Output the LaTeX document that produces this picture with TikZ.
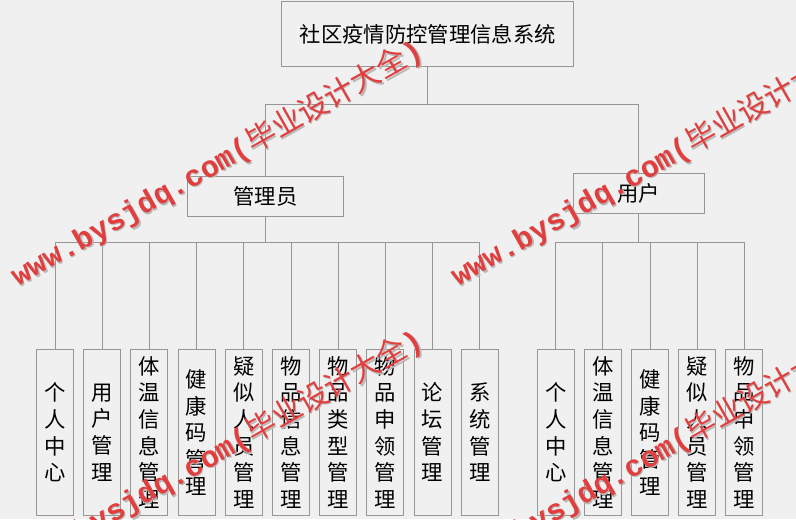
\documentclass[tikz,border=0pt]{standalone}
\usepackage{fontspec}
\usepackage{xcolor}
\usepackage{tikz}
\setmainfont{Liberation Sans}
\newfontfamily\cjkfont{Noto Sans CJK SC}
\newfontfamily\wmlatin{Liberation Mono}

\definecolor{bgcol}{RGB}{240,240,240}
\definecolor{linecol}{RGB}{150,150,150}
\definecolor{wmred}{RGB}{226,62,62}
\definecolor{wmgray}{RGB}{185,185,185}

\tikzset{
  box/.style={draw=linecol, line width=0.75pt, inner sep=0pt, font=\cjkfont\fontsize{16}{20}\selectfont},
  leafbox/.style={box, minimum width=27.75pt, minimum height=124.8pt, align=center},
  link/.style={draw=linecol, line width=0.75pt},
  wmtext/.style={inner sep=0pt, rotate=29.5, text=wmred, font=\wmlatin\bfseries\fontsize{22.5}{26}\selectfont},
  wmshade/.style={wmtext, text=wmgray}
}
\newcommand{\wmstring}{www.bysjdq.com({\cjkfont\mdseries 毕业设计大全})}

\begin{document}
\begin{tikzpicture}[x=0.75pt,y=0.75pt,yscale=-1,xscale=1]
%set diagram to 796 x 519
\useasboundingbox (0,0) rectangle (796,519);
\fill[bgcol] (0,0) rectangle (796,519);
\clip (0,0) rectangle (796,519);

%Shape: Rectangle [root]
\node[box, minimum width=219pt, minimum height=48.4pt] (root) at (427.7,34) {社区疫情防控管理信息系统};
%Shape: Rectangle [roles]
\node[box, minimum width=117.5pt, minimum height=29.5pt] (admin) at (265.6,196.4) {管理员};
\node[box, minimum width=98.3pt, minimum height=29.8pt] (user) at (638.8,193.2) {用户};

%Shape: Rectangle [admin leaves]
\foreach \txt [count=\i] in {{个\\人\\中\\心},{用\\户\\管\\理},{体\\温\\信\\息\\管\\理},{健\\康\\码\\管\\理},{疑\\似\\人\\员\\管\\理},{物\\品\\信\\息\\管\\理},{物\\品\\类\\型\\管\\理},{物\\品\\申\\领\\管\\理},{论\\坛\\管\\理},{系\\统\\管\\理}}
  \node[leafbox] (a\i) at ({7.8+47.2*\i},432.5) {\txt};
%Shape: Rectangle [user leaves]
\foreach \txt [count=\i] in {{个\\人\\中\\心},{体\\温\\信\\息\\管\\理},{健\\康\\码\\管\\理},{疑\\似\\人\\员\\管\\理},{物\\品\\申\\领\\管\\理}}
  \node[leafbox] (u\i) at ({508.55+47.15*\i},432.5) {\txt};

%Straight Lines
\coordinate (topbus) at (0,104);
\coordinate (leafbus) at (0,242.3);
\draw[link] (root.south) -- (root.south |- topbus) -| (admin.north);
\draw[link] (root.south |- topbus) -| (user.north);
\foreach \i in {1,...,10}
  \draw[link] (admin.south) -- (admin.south |- leafbus) -| (a\i.north);
\foreach \i in {1,...,5}
  \draw[link] (user.south) -- (user.south |- leafbus) -| (u\i.north);

% Text Node [watermarks]
\foreach \dx/\dy [count=\k] in {0/0,440/0,0/290,440/290}{
  \node[wmshade] (wms\k) at (218.5+\dx,164.5+\dy) {\wmstring};
  \node[wmtext] (wm\k) at (217+\dx,163+\dy) {\wmstring};
}

\end{tikzpicture}
\end{document}
